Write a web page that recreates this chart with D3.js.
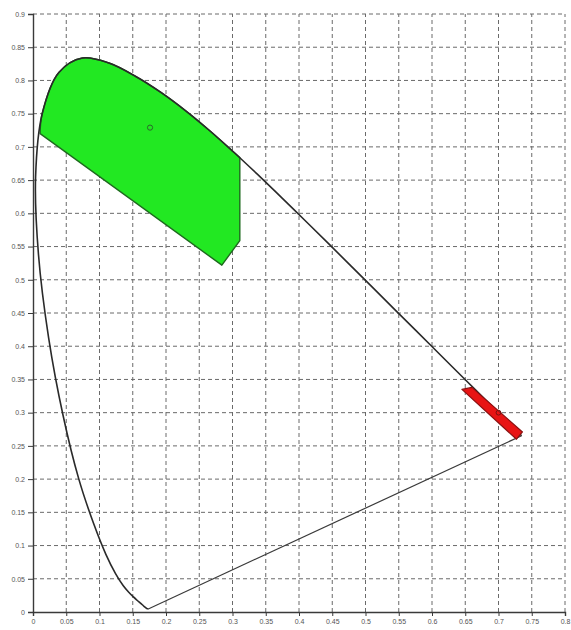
<!DOCTYPE html>
<html>
<head>
<meta charset="utf-8">
<script src="https://cdn.jsdelivr.net/npm/d3@7"></script>
<style>
html,body{margin:0;padding:0;background:#fff;}
svg{display:block;}
</style>
</head>
<body>
<svg id="chart" width="571" height="630"></svg>
<script>
// ---- data ----
const xTicks = [0,0.05,0.1,0.15,0.2,0.25,0.3,0.35,0.4,0.45,0.5,0.55,0.6,0.65,0.7,0.75,0.8];
const yTicks = [0,0.05,0.1,0.15,0.2,0.25,0.3,0.35,0.4,0.45,0.5,0.55,0.6,0.65,0.7,0.75,0.8,0.85,0.9];
const xTickLabels = ["0","0.05","0.1","0.15","0.2","0.25","0.3","0.35","0.4","0.45","0.5","0.55","0.6","0.65","0.7","0.75","0.8"];
const yTickLabels = ["0","0.05","0.1","0.15","0.2","0.25","0.3","0.35","0.4","0.45","0.5","0.55","0.6","0.65","0.7","0.75","0.8","0.85","0.9"];

// spectral locus (x, y chromaticity)
const locusX = [0.1741,0.1738,0.1733,0.1726,0.1714,0.1703,0.1689,0.1669,0.1644,0.1611,0.1566,0.1510,0.1440,0.1355,0.1241,0.1096,0.0913,0.0687,0.0454,0.0235,0.0082,0.0039,0.0139,0.0389,0.0743,0.1142,0.1547,0.1929,0.2296,0.2658,0.3016,0.3373,0.3731,0.4087,0.4441,0.4788,0.5125,0.5448,0.5752,0.6029,0.6270,0.6482,0.6658,0.6801,0.6915,0.7006,0.7079,0.7140,0.7190,0.7230,0.7260,0.7300,0.7320,0.7347];
const locusY = [0.0050,0.0049,0.0048,0.0048,0.0051,0.0058,0.0069,0.0086,0.0109,0.0138,0.0177,0.0227,0.0297,0.0399,0.0578,0.0868,0.1327,0.2007,0.2950,0.4127,0.5384,0.6548,0.7502,0.8120,0.8338,0.8262,0.8059,0.7816,0.7543,0.7243,0.6923,0.6589,0.6245,0.5896,0.5547,0.5202,0.4866,0.4544,0.4242,0.3965,0.3725,0.3514,0.3340,0.3197,0.3083,0.2993,0.2920,0.2859,0.2809,0.2770,0.2740,0.2700,0.2680,0.2653];

// green region: upper boundary follows the locus, then straight edges
const greenTopX = [0.0107,0.0139,0.0389,0.0743,0.1142,0.1547,0.1929,0.2296,0.2658,0.3016,0.311];
const greenTopY = [0.7200,0.7502,0.8120,0.8338,0.8262,0.8059,0.7816,0.7543,0.7243,0.6923,0.684];
const greenRestX = [0.311,0.284];
const greenRestY = [0.559,0.522];
const greenPoint = [0.176, 0.729];

// red region
const redX = [0.645,0.660,0.736,0.727];
const redY = [0.335,0.338,0.271,0.260];
const redPoint = [0.700, 0.300];

// ---- chart ----
const svg = d3.select("#chart");
const x = d3.scaleLinear().domain([0,0.8]).range([33,565]);
const y = d3.scaleLinear().domain([0,0.9]).range([612,14]);

const grid = svg.append("g");
grid.selectAll("line.v").data(xTicks.slice(1)).join("line")
  .attr("x1", d=>x(d)).attr("x2", d=>x(d)).attr("y1", y(0)).attr("y2", y(0.9))
  .attr("stroke","#6a6a6a").attr("stroke-width",1).attr("stroke-dasharray","4,3");
grid.selectAll("line.h").data(yTicks.slice(1)).join("line")
  .attr("y1", d=>y(d)).attr("y2", d=>y(d)).attr("x1", x(0)).attr("x2", x(0.8))
  .attr("stroke","#6a6a6a").attr("stroke-width",1).attr("stroke-dasharray","4,3");

// green region
const lineC = d3.line().x(d=>x(d[0])).y(d=>y(d[1])).curve(d3.curveCatmullRom);
const gp = d3.path();
lineC.context(gp)(greenTopX.map((v,i)=>[v,greenTopY[i]]));
greenRestX.forEach((v,i)=>gp.lineTo(x(v), y(greenRestY[i])));
gp.closePath();
svg.append("path").attr("d", gp.toString())
  .attr("fill","#22e822").attr("stroke","#1d6a1d").attr("stroke-width",1.4).attr("stroke-linejoin","round");

// locus
const locusPts = locusX.map((v,i)=>[v,locusY[i]]);
lineC.context(null);
svg.append("path").attr("d", lineC(locusPts))
  .attr("fill","none").attr("stroke","#2a2a2a").attr("stroke-width",1.6);
// purple line
svg.append("line")
  .attr("x1", x(locusX[locusX.length-1])).attr("y1", y(locusY[locusY.length-1]))
  .attr("x2", x(locusX[0])).attr("y2", y(locusY[0]))
  .attr("stroke","#3a3a3a").attr("stroke-width",1.2);

// red region (drawn over the locus)
svg.append("path")
  .attr("d", d3.line().x(d=>x(d[0])).y(d=>y(d[1]))(redX.map((v,i)=>[v,redY[i]])) + "Z")
  .attr("fill","#e81414").attr("stroke","#8a1010").attr("stroke-width",1.2).attr("stroke-linejoin","round");

// markers
svg.append("circle").attr("cx", x(greenPoint[0])).attr("cy", y(greenPoint[1])).attr("r",2.6)
  .attr("fill","none").attr("stroke","#2a6a2a").attr("stroke-width",1);
svg.append("circle").attr("cx", x(redPoint[0])).attr("cy", y(redPoint[1])).attr("r",2.4)
  .attr("fill","none").attr("stroke","#7a1010").attr("stroke-width",1);

// axes
const xAxis = d3.axisBottom(x).tickValues(xTicks).tickFormat((d,i)=>xTickLabels[i]).tickSize(4).tickPadding(3);
const yAxis = d3.axisLeft(y).tickValues(yTicks).tickFormat((d,i)=>yTickLabels[i]).tickSize(5).tickPadding(3);
const gx = svg.append("g").attr("transform",`translate(0,${y(0)})`).call(xAxis);
const gy = svg.append("g").attr("transform",`translate(${x(0)},0)`).call(yAxis);
[gx,gy].forEach(g=>{
  g.select(".domain").attr("stroke","#3a3a3a").attr("stroke-width",1.4);
  g.selectAll(".tick line").attr("stroke","#3a3a3a");
  g.selectAll(".tick text").attr("fill","#555").attr("font-size","7px")
    .attr("font-family","'Liberation Sans', Arial, sans-serif");
});
</script>
</body>
</html>
